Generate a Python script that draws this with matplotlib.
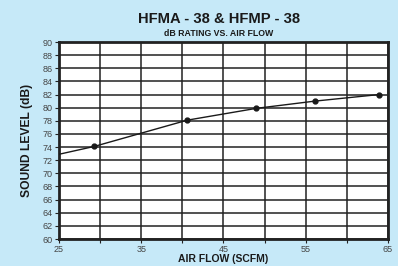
import matplotlib.pyplot as plt
import numpy as np

# data
air_flow = [25, 29.3, 40.6, 49.0, 56.1, 63.9]
sound_level = [72.9, 74.1, 78.1, 79.9, 81.0, 82.0]
x_ticks = [25, 35, 45, 55, 65]
y_ticks = list(range(60, 91, 2))

bg = '#c6e9f8'
plt.rcParams['font.family'] = ['Liberation Sans', 'DejaVu Sans']

fig = plt.figure(figsize=(3.98, 2.66), dpi=100, facecolor=bg)
ax = fig.add_axes([0.148, 0.1015, 0.827, 0.7405])
ax.set_facecolor('white')

ax.plot(air_flow, sound_level, '-', color='#1a1a1a', lw=1.0, zorder=3)
ax.plot(air_flow[1:], sound_level[1:], 'o', color='#1a1a1a', ms=3.5, zorder=4)

ax.set_xlim(25, 65)
ax.set_ylim(60, 90)
ax.set_xticks(x_ticks)
ax.set_xticks(np.arange(25, 66, 5), minor=True)
ax.set_yticks(y_ticks)
ax.grid(True, which='both', color='#222222', lw=1.1)
ax.set_axisbelow(True)
for s in ax.spines.values():
    s.set_linewidth(2.0)
    s.set_color('#222222')

ax.tick_params(axis='both', which='both', labelsize=6.5, labelcolor='#444444',
               color='#222222', length=3, width=0.8, pad=1.5)

ax.set_xlabel('AIR FLOW (SCFM)', fontsize=7.5, fontweight='bold', color='#1a1a1a', labelpad=0)
ax.set_ylabel('SOUND LEVEL (dB)', fontsize=8.7, fontweight='bold', color='#1a1a1a', labelpad=7)

fig.text(0.55, 0.93, 'HFMA - 38 & HFMP - 38', ha='center', va='center',
         fontsize=10.6, fontweight='bold', color='#1a1a1a')
fig.text(0.55, 0.875, 'dB RATING VS. AIR FLOW', ha='center', va='center',
         fontsize=6.3, fontweight='bold', color='#1a1a1a')

fig.savefig('out.png', dpi=100, facecolor=bg)
